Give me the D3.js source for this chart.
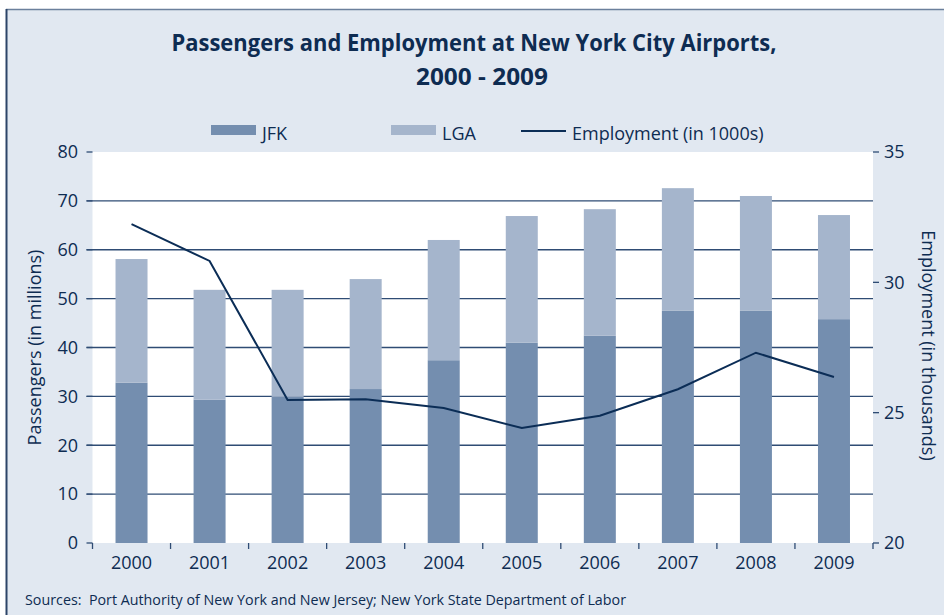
<!DOCTYPE html>
<html lang="en">
<head>
<meta charset="UTF-8">
<script src="https://d3js.org/d3.v7.min.js"></script>
<title>NYC Airports</title>
<style>
  body { margin: 0; background: #fff; }
  text { font-family: "Open Sans", sans-serif; fill: #0e2c52; }
</style>
</head>
<body>
<div id="chart"></div>
<script>
// data
const years = ["2000","2001","2002","2003","2004","2005","2006","2007","2008","2009"]
const jfk = [32.8, 29.3, 29.9, 31.5, 37.4, 41.0, 42.4, 47.5, 47.5, 45.8]
const lga = [25.3, 22.5, 21.9, 22.5, 24.6, 25.9, 25.9, 25.1, 23.5, 21.3]   // stacked on top of jfk
const employment = [32.23, 30.82, 25.49, 25.51, 25.18, 24.41, 24.88, 25.90, 27.30, 26.37]
const leftTicks = [0, 10, 20, 30, 40, 50, 60, 70, 80]
const rightTicks = [20, 25, 30, 35]

const width = 944
const height = 615
const plotLeft = 92.5, plotRight = 873, plotTop = 152, plotBottom = 543

const svg = d3.select("#chart").append("svg")
    .attr("width", width)
    .attr("height", height)

// frame + background
svg.append("rect").attr("x", 6).attr("y", 9).attr("width", width).attr("height", height)
    .attr("fill", "#e1e8f1")
svg.append("line").attr("x1", 6).attr("x2", width).attr("y1", 9.5).attr("y2", 9.5)
    .attr("stroke", "#6b809c").attr("stroke-width", 1.5)
svg.append("line").attr("x1", 6.5).attr("x2", 6.5).attr("y1", 9).attr("y2", height)
    .attr("stroke", "#2c4468").attr("stroke-width", 2)

// plot area
svg.append("rect").attr("x", plotLeft).attr("y", plotTop)
    .attr("width", plotRight - plotLeft).attr("height", plotBottom - plotTop)
    .attr("fill", "#fff")

const x = d3.scaleBand()
    .domain(years)
    .range([plotLeft, plotRight])
    .paddingInner(0.59)
    .paddingOuter(0.295)

const y = d3.scaleLinear().domain([0, 80]).range([plotBottom, plotTop])
const yR = d3.scaleLinear().domain([20, 35]).range([plotBottom, plotTop])

// gridlines
svg.append("g")
    .selectAll("line")
    .data(leftTicks.filter(d => d > 0 && d < 80))
    .join("line")
      .attr("x1", plotLeft - 6).attr("x2", plotRight)
      .attr("y1", d => y(d)).attr("y2", d => y(d))
      .attr("stroke", "#2f4c74")
      .attr("stroke-width", 1.3)

// stacked bars
const rows = years.map((yr, i) => ({year: yr, jfk: jfk[i], lga: lga[i]}))
const stack = d3.stack().keys(["jfk", "lga"])(rows)
const color = d3.scaleOrdinal().domain(["jfk", "lga"]).range(["#748eaf", "#a5b5cc"])

svg.append("g")
    .selectAll("g")
    .data(stack)
    .join("g")
      .attr("fill", d => color(d.key))
    .selectAll("rect")
    .data(d => d)
    .join("rect")
      .attr("x", d => x(d.data.year))
      .attr("width", x.bandwidth())
      .attr("y", d => y(d[1]))
      .attr("height", d => y(d[0]) - y(d[1]))

// employment line
const line = d3.line()
    .x((d, i) => x(years[i]) + x.bandwidth() / 2)
    .y(d => yR(d))

svg.append("path")
    .datum(employment)
    .attr("d", line)
    .attr("fill", "none")
    .attr("stroke", "#0b2d56")
    .attr("stroke-width", 2)

// left axis
const gl = svg.append("g")
gl.selectAll("line")
    .data(leftTicks)
    .join("line")
      .attr("x1", plotLeft - 6).attr("x2", plotLeft)
      .attr("y1", d => y(d)).attr("y2", d => y(d))
      .attr("stroke", "#2f4c74").attr("stroke-width", 1.3)
gl.selectAll("text")
    .data(leftTicks)
    .join("text")
      .attr("x", 78)
      .attr("y", d => y(d))
      .attr("dy", "0.35em")
      .attr("text-anchor", "end")
      .style("font-size", "18px")
      .text(d => d)

// right axis
const gr = svg.append("g")
gr.selectAll("line")
    .data(rightTicks)
    .join("line")
      .attr("x1", plotRight).attr("x2", plotRight + 6)
      .attr("y1", d => yR(d)).attr("y2", d => yR(d))
      .attr("stroke", "#2f4c74").attr("stroke-width", 1.3)
gr.selectAll("text")
    .data(rightTicks)
    .join("text")
      .attr("x", 884)
      .attr("y", d => yR(d))
      .attr("dy", "0.35em")
      .style("font-size", "18px")
      .text(d => d)

// x axis ticks at band edges
const edges = d3.range(years.length + 1).map(i => x.range()[0] + i * x.step())
svg.append("g")
    .selectAll("line")
    .data(edges)
    .join("line")
      .attr("x1", d => d).attr("x2", d => d)
      .attr("y1", plotBottom).attr("y2", plotBottom + 6)
      .attr("stroke", "#2f4c74").attr("stroke-width", 1.3)

svg.append("g")
    .selectAll("text")
    .data(years)
    .join("text")
      .attr("x", d => x(d) + x.bandwidth() / 2)
      .attr("y", 569)
      .attr("text-anchor", "middle")
      .style("font-size", "18px")
      .text(d => d)

// axis titles
svg.append("text")
    .attr("transform", `translate(41,${(plotTop + plotBottom) / 2}) rotate(-90)`)
    .attr("text-anchor", "middle")
    .style("font-size", "18px")
    .text("Passengers (in millions)")

svg.append("text")
    .attr("transform", `translate(922,${(plotTop + plotBottom) / 2 - 2}) rotate(90)`)
    .attr("text-anchor", "middle")
    .style("font-size", "18px")
    .text("Employment (in thousands)")

// title
svg.append("text")
    .attr("x", 474).attr("y", 51)
    .attr("text-anchor", "middle")
    .attr("textLength", 605).attr("lengthAdjust", "spacingAndGlyphs")
    .style("font-size", "23px").style("font-weight", "bold")
    .text("Passengers and Employment at New York City Airports,")
svg.append("text")
    .attr("x", 482).attr("y", 85)
    .attr("text-anchor", "middle")
    .attr("textLength", 132).attr("lengthAdjust", "spacingAndGlyphs")
    .style("font-size", "23px").style("font-weight", "bold")
    .text("2000 - 2009")

// legend
const legend = [
  {label: "JFK", x: 211, type: "box", fill: "#748eaf"},
  {label: "LGA", x: 391, type: "box", fill: "#a5b5cc"},
  {label: "Employment (in 1000s)", x: 521, type: "line", fill: "#0b2d56"}
]
const lg = svg.append("g").selectAll("g").data(legend).join("g")
lg.filter(d => d.type == "box").append("rect")
    .attr("x", d => d.x).attr("y", 125).attr("width", 45).attr("height", 10)
    .attr("fill", d => d.fill)
lg.filter(d => d.type == "line").append("line")
    .attr("x1", d => d.x).attr("x2", d => d.x + 45)
    .attr("y1", 131).attr("y2", 131)
    .attr("stroke", d => d.fill).attr("stroke-width", 2)
lg.append("text")
    .attr("x", d => d.x + 51).attr("y", 140)
    .style("font-size", "18px")
    .text(d => d.label)

// source note
svg.append("text")
    .attr("x", 25).attr("y", 605)
    .attr("textLength", 601).attr("lengthAdjust", "spacingAndGlyphs")
    .style("font-size", "15px")
    .style("white-space", "pre")
    .text("Sources:  Port Authority of New York and New Jersey; New York State Department of Labor")
</script>
</body>
</html>
